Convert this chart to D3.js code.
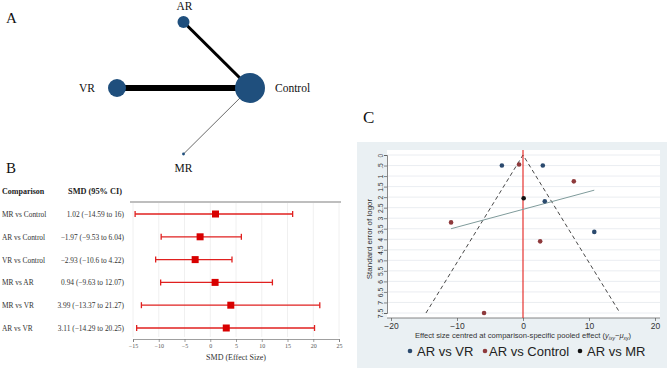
<!DOCTYPE html>
<html>
<head>
<meta charset="utf-8">
<script src="https://cdn.jsdelivr.net/npm/d3@7"></script>
<style>
  html, body { margin: 0; padding: 0; background: #ffffff; }
  svg { display: block; }
</style>
</head>
<body>
<svg id="chart" width="669" height="370"></svg>
<script>
// ---- panel A: network ----
const netNodes = ["AR", "VR", "Control", "MR"];
const netLayoutX = [0.5, 0, 1, 0.5];
const netLayoutY = [1, 0, 0, -1];
const netNodeSize = [36, 81, 225, 2];
const netEdges = [["VR", "Control"], ["AR", "Control"], ["MR", "Control"]];
const netEdgeWeight = [7, 3.5, 1];

// ---- panel B: forest plot ----
const comparisons = ["MR vs Control", "AR vs Control", "VR vs Control", "MR vs AR", "MR vs VR", "AR vs VR"];
const smd = [1.02, -1.97, -2.93, 0.94, 3.99, 3.11];
const ciLow = [-14.59, -9.53, -10.6, -9.63, -13.37, -14.29];
const ciHigh = [16, 6.04, 4.22, 12.07, 21.27, 20.25];
const smdTicks = [-15, -10, -5, 0, 5, 10, 15, 20, 25];

// ---- panel C: comparison-adjusted funnel plot ----
const funnelGroups = ["AR vs VR", "AR vs Control", "AR vs MR"];
const funnelGroup = ["AR vs VR", "AR vs VR", "AR vs VR", "AR vs VR",
  "AR vs Control", "AR vs Control", "AR vs Control", "AR vs Control", "AR vs Control", "AR vs MR"];
const funnelEffect = [-3.2, 3.0, 3.3, 10.8, -0.6, 7.7, -10.9, 2.6, -5.9, 0.1];
const funnelSE = [0.5, 0.5, 2.2, 3.65, 0.45, 1.25, 3.2, 4.1, 7.5, 2.05];
const seTicks = [0, 0.5, 1, 1.5, 2, 2.5, 3, 3.5, 4, 4.5, 5, 5.5, 6, 6.5, 7, 7.5];
const effectTicks = [-20, -10, 0, 10, 20];
const regEffect = [-10.9, 10.8];
const regSE = [3.5, 1.67];

const svg = d3.select("#chart");
const serif = "'Liberation Serif', 'Times New Roman', serif";
const sans = "'Liberation Sans', Arial, sans-serif";

function panelLetter(x, y, t, size) {
  svg.append("text").attr("x", x).attr("y", y).attr("font-family", serif)
    .attr("font-size", size).attr("fill", "#111").text(t);
}

// ================= A =================
(function () {
  const x = d3.scaleLinear().domain([0, 1]).range([117, 250]);
  const y = d3.scaleLinear().domain([-1, 1]).range([154, 22]);
  const r = d3.scaleSqrt().domain([0, 225]).range([0, 15]);
  const w = d3.scaleLinear().domain([0, 7]).range([0, 6.2]);
  const pos = new Map(netNodes.map((n, i) => [n, [x(netLayoutX[i]), y(netLayoutY[i])]]));

  const g = svg.append("g");
  g.selectAll("line").data(netEdges).join("line")
    .attr("x1", (d) => pos.get(d[0])[0]).attr("y1", (d) => pos.get(d[0])[1])
    .attr("x2", (d) => pos.get(d[1])[0]).attr("y2", (d) => pos.get(d[1])[1])
    .attr("stroke", (d, i) => netEdgeWeight[i] < 2 ? "#555" : "#000")
    .attr("stroke-width", (d, i) => w(netEdgeWeight[i]));
  g.selectAll("circle").data(netNodes).join("circle")
    .attr("cx", (d) => pos.get(d)[0]).attr("cy", (d) => pos.get(d)[1])
    .attr("r", (d, i) => r(netNodeSize[i]))
    .attr("fill", "#1f4f7d");

  const labelOffset = { AR: [1, -12, "middle"], VR: [-22, 4, "end"], Control: [25, 4, "start"], MR: [0, 18, "middle"] };
  g.selectAll("text").data(netNodes).join("text")
    .attr("x", (d) => pos.get(d)[0] + labelOffset[d][0])
    .attr("y", (d) => pos.get(d)[1] + labelOffset[d][1])
    .attr("text-anchor", (d) => labelOffset[d][2])
    .attr("font-family", serif).attr("font-size", 11.5).attr("fill", "#111")
    .text((d) => d);

  panelLetter(6, 23, "A", 15);
  panelLetter(6, 173, "B", 15);
})();

// ================= B =================
(function () {
  const x = d3.scaleLinear().domain([-15, 25]).range([133, 339]);
  const y = d3.scalePoint().domain(comparisons).range([214, 328]);
  const g = svg.append("g");
  const red = "#e0201f";

  g.append("text").attr("x", 2).attr("y", 194).attr("font-family", serif)
    .attr("font-size", 8).attr("font-weight", "bold").attr("fill", "#222").text("Comparison");
  g.append("text").attr("x", 95).attr("y", 194).attr("text-anchor", "middle").attr("font-family", serif)
    .attr("font-size", 8.3).attr("font-weight", "bold").attr("fill", "#222").text("SMD (95% CI)");

  g.append("g").selectAll("line").data(smdTicks).join("line")
    .attr("x1", (d) => x(d)).attr("x2", (d) => x(d))
    .attr("y1", 203).attr("y2", 337)
    .attr("stroke", "#ececec").attr("stroke-width", 0.8);

  g.append("line").attr("x1", 130).attr("x2", 341).attr("y1", 202).attr("y2", 202)
    .attr("stroke", "#a8a8a8").attr("stroke-width", 1.4);

  const fmt = (v) => String(v).replace("-", "\u2212");
  const rows = g.append("g").selectAll("g").data(comparisons).join("g")
    .attr("transform", (d) => `translate(0,${y(d)})`);
  rows.append("text").attr("x", 2).attr("y", 3).attr("font-family", serif)
    .attr("font-size", 7.4).attr("fill", "#333").text((d) => d);
  rows.append("text").attr("x", 124).attr("y", 3).attr("text-anchor", "end").attr("font-family", serif)
    .attr("font-size", 7.4).attr("fill", "#333")
    .text((d, i) => `${fmt(smd[i])} (${fmt(ciLow[i])} to ${fmt(ciHigh[i])})`);
  rows.append("line").attr("x1", (d, i) => x(ciLow[i])).attr("x2", (d, i) => x(ciHigh[i]))
    .attr("stroke", red).attr("stroke-width", 1.3);
  rows.append("line").attr("x1", (d, i) => x(ciLow[i])).attr("x2", (d, i) => x(ciLow[i]))
    .attr("y1", -3).attr("y2", 3).attr("stroke", red).attr("stroke-width", 1.3);
  rows.append("line").attr("x1", (d, i) => x(ciHigh[i])).attr("x2", (d, i) => x(ciHigh[i]))
    .attr("y1", -3).attr("y2", 3).attr("stroke", red).attr("stroke-width", 1.3);
  rows.append("rect").attr("x", (d, i) => x(smd[i]) - 3.5).attr("y", -3.5)
    .attr("width", 7).attr("height", 7).attr("fill", "#d80000");

  g.append("g").attr("transform", "translate(0,339)")
    .call(d3.axisBottom(x).tickValues(smdTicks).tickSize(3).tickFormat((d) => fmt(d)))
    .call((a) => a.selectAll("path,line").attr("stroke", "#777").attr("stroke-width", 0.7))
    .call((a) => a.selectAll("text").attr("font-family", serif).attr("font-size", 6).attr("fill", "#555").attr("dy", "0.5em"));

  g.append("text").attr("x", 236).attr("y", 360).attr("text-anchor", "middle").attr("font-family", serif)
    .attr("font-size", 8).attr("fill", "#333").text("SMD (Effect Size)");
})();

// ================= C =================
(function () {
  const x = d3.scaleLinear().domain([-20, 20]).range([391, 655]);
  const y = d3.scaleLinear().domain([0, 7.5]).range([155, 313]);
  const color = d3.scaleOrdinal().domain(funnelGroups).range(["#2b4a6e", "#8e3a3c", "#111111"]);
  const g = svg.append("g");
  const plot = { left: 387, right: 660, top: 150, bottom: 318 };

  panelLetter(363, 123, "C", 17);

  g.append("rect").attr("x", 357).attr("y", 142).attr("width", 310).attr("height", 226).attr("fill", "#eaf0f3");
  g.append("rect").attr("x", plot.left).attr("y", plot.top)
    .attr("width", plot.right - plot.left).attr("height", plot.bottom - plot.top).attr("fill", "#ffffff");

  g.append("g").selectAll("line").data(seTicks).join("line")
    .attr("x1", plot.left).attr("x2", plot.right)
    .attr("y1", (d) => y(d)).attr("y2", (d) => y(d))
    .attr("stroke", "#e4e9ed").attr("stroke-width", 0.8);

  // y axis
  const yAxis = g.append("g").attr("transform", `translate(${plot.left},0)`)
    .call(d3.axisLeft(y).tickValues(seTicks).tickSize(3)
      .tickFormat((d) => (d === 0.5 ? ".5" : String(d))));
  yAxis.select(".domain").attr("stroke", "#555").attr("stroke-width", 0.7);
  yAxis.selectAll(".tick line").attr("stroke", "#555").attr("stroke-width", 0.7);
  yAxis.selectAll(".tick text")
    .attr("transform", "rotate(-90)").attr("x", 0).attr("y", -4).attr("dy", null)
    .attr("text-anchor", "middle").attr("font-family", sans).attr("font-size", 6.8).attr("fill", "#333");

  // x axis
  const xAxis = g.append("g").attr("transform", `translate(0,${plot.bottom})`)
    .call(d3.axisBottom(x).tickValues(effectTicks).tickSize(3));
  xAxis.select(".domain").attr("d", `M${plot.left},0H${plot.right}`).attr("stroke", "#555").attr("stroke-width", 0.7);
  xAxis.selectAll(".tick line").attr("stroke", "#555").attr("stroke-width", 0.7);
  xAxis.selectAll(".tick text").attr("font-family", sans).attr("font-size", 8.5).attr("fill", "#333").attr("y", 5);

  // funnel
  const funnel = [[-1.96 * 7.5, 7.5], [0, 0], [1.96 * 7.5, 7.5]];
  g.append("path").attr("d", d3.line().x((d) => x(d[0])).y((d) => y(d[1]))(funnel))
    .attr("fill", "none").attr("stroke", "#333").attr("stroke-width", 0.9).attr("stroke-dasharray", "4,3");

  g.append("line").attr("x1", x(0)).attr("x2", x(0)).attr("y1", plot.top).attr("y2", plot.bottom)
    .attr("stroke", "#e4201c").attr("stroke-width", 1.1);

  g.append("line").attr("x1", x(regEffect[0])).attr("y1", y(regSE[0]))
    .attr("x2", x(regEffect[1])).attr("y2", y(regSE[1]))
    .attr("stroke", "#7f9b9b").attr("stroke-width", 1);

  g.append("g").selectAll("circle").data(funnelEffect).join("circle")
    .attr("cx", (d) => x(d)).attr("cy", (d, i) => y(funnelSE[i]))
    .attr("r", 2.3).attr("fill", (d, i) => color(funnelGroup[i]));

  // axis titles
  g.append("text").attr("transform", "translate(372,239) rotate(-90)")
    .attr("text-anchor", "middle").attr("font-family", sans).attr("font-size", 8).attr("fill", "#333")
    .text("Standard error of logor");

  const xt = g.append("text").attr("x", 523).attr("y", 338).attr("text-anchor", "middle")
    .attr("font-family", sans).attr("font-size", 7.6).attr("fill", "#333");
  xt.append("tspan").text("Effect size centred at comparison-specific pooled effect (");
  xt.append("tspan").attr("font-style", "italic").text("y");
  xt.append("tspan").attr("font-style", "italic").attr("font-size", 5).attr("dy", 1.5).text("ixy");
  xt.append("tspan").attr("dy", -1.5).text("\u2212");
  xt.append("tspan").attr("font-style", "italic").text("\u03bc");
  xt.append("tspan").attr("font-style", "italic").attr("font-size", 5).attr("dy", 1.5).text("xy");
  xt.append("tspan").attr("dy", -1.5).text(")");

  // legend
  const legendX = [410, 485, 580];
  const lg = g.append("g").selectAll("g").data(funnelGroups).join("g")
    .attr("transform", (d, i) => `translate(${legendX[i]},351)`);
  lg.append("circle").attr("r", 2.3).attr("fill", (d) => color(d));
  lg.append("text").attr("x", (d, i) => (i === 1 ? 4 : 7)).attr("y", 5)
    .attr("font-family", sans).attr("font-size", 13).attr("fill", "#222").text((d) => d);
})();
</script>
</body>
</html>
